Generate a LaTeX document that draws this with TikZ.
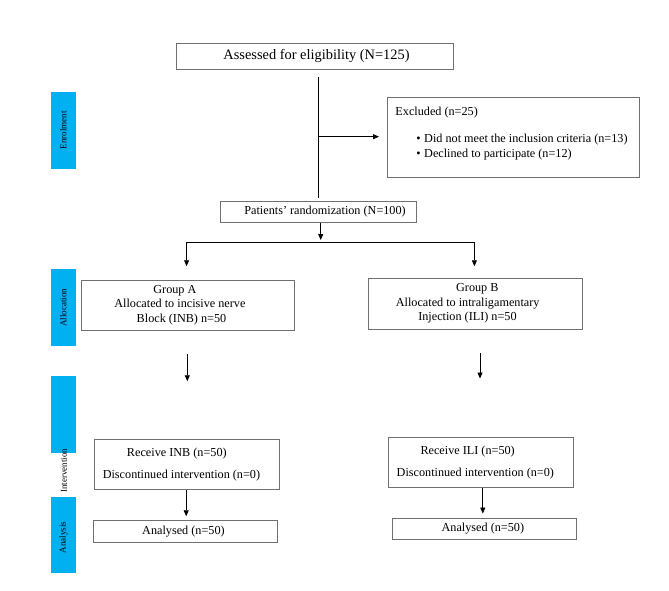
\documentclass[tikz,border=0pt]{standalone}
\usepackage{fontspec}
\setmainfont{Liberation Serif}
\usetikzlibrary{arrows.meta}
\definecolor{barblue}{RGB}{0,176,240}
\definecolor{boxgray}{RGB}{112,112,112}
\begin{document}
\begin{tikzpicture}[x=1pt,y=-1pt,
  box/.style={draw=boxgray,line width=0.9pt,inner sep=0pt,align=center,
    font=\fontsize{12.2}{14.6}\selectfont},
  bar/.style={fill=barblue,inner sep=0pt,rotate=90,minimum height=25.5pt,
    font=\fontsize{9}{10}\selectfont},
  sidelabel/.style={inner sep=0pt,rotate=90,font=\fontsize{9}{10}\selectfont},
  conn/.style={draw=black,line width=0.8pt},
  arr/.style={conn,-{Triangle[length=6pt,width=5pt]}}]
\useasboundingbox[fill=white] (0,0) rectangle (669,591);

% boxes
\node[box,minimum width=276.7pt,minimum height=26pt,
  font=\fontsize{14.4}{17}\selectfont] (assess) at (315,56.3)
  {\hspace*{3pt}Assessed for eligibility (N=125)};
\node[box,anchor=north west,minimum width=252pt,minimum height=80pt] (excl) at (387,97.3)
  {\begin{minipage}[t][80pt][t]{252pt}\raggedright
   \vspace*{8.8pt}\hspace*{8pt}Excluded (n=25)\\[12.9pt]
   \hspace*{29pt}\textbullet\hspace{3.5pt}Did not meet the inclusion criteria (n=13)\\[0.8pt]
   \hspace*{29pt}\textbullet\hspace{3.5pt}Declined to participate (n=12)
   \end{minipage}};
\node[box,minimum width=196.7pt,minimum height=20.6pt] (rand) at (318.35,212)
  {\hspace*{13.4pt}Patients’ randomization (N=100)};
\node[box,minimum width=213.2pt,minimum height=50pt] (gA) at (187.9,305)
  {\hspace*{-26pt}Group A\\\hspace*{-16pt}Allocated to incisive nerve\\\hspace*{-12.8pt}Block (INB) n=50};
\node[box,minimum width=213.9pt,minimum height=50.7pt] (gB) at (475.35,303.65)
  {\hspace*{4pt}Group B\\\hspace*{-15.4pt}Allocated to intraligamentary\\\hspace*{-15.8pt}Injection (ILI) n=50};
\node[box,minimum width=184.9pt,minimum height=50.3pt] (rA) at (186.75,464.15)
  {\hspace*{-19.8pt}Receive INB (n=50)\\[7.4pt]\hspace*{-10.6pt}Discontinued intervention (n=0)};
\node[box,minimum width=184.7pt,minimum height=50.4pt] (rB) at (480.65,462.5)
  {\hspace*{-26pt}Receive ILI (n=50)\\[7.2pt]\hspace*{-10.6pt}Discontinued intervention (n=0)};
\node[box,minimum width=183.7pt,minimum height=21.6pt] (nA) at (185.45,531.5)
  {\hspace*{-4pt}Analysed (n=50)};
\node[box,minimum width=184.7pt,minimum height=20.6pt] (nB) at (484.35,529)
  {\hspace*{-3pt}Analysed (n=50)};

% side bars
\node[bar,minimum width=77.6pt] (barE) at (63.4,130.5) {Enrolment};
\node[bar,minimum width=76.7pt] (barA) at (63.4,307.65) {Allocation};
\node[bar,minimum width=77.3pt] (barI) at (63.4,414.65) {};
\node[sidelabel] (labI) at (64,470.5) {Intervention};
\node[bar,minimum width=76.6pt] (barN) at (63.4,535) {\hspace*{-5pt}Analysis};

% connector coordinates
\coordinate (vx) at (318.3,0);
\coordinate (ex) at (318.3,136.7);
\coordinate (rx) at (320.7,0);
\coordinate (split) at (320.7,240);
\coordinate (bA) at (186.6,242.3);
\coordinate (bB) at (474.4,242.3);
\coordinate (ax) at (187.3,0);
\coordinate (bx) at (480,0);
\coordinate (cx) at (186.2,0);
\coordinate (dx) at (482.8,0);

% connectors
\draw[conn,shorten <=7.7pt,shorten >=3.5pt] (vx |- assess.south) -- (vx |- rand.north);
\draw[arr,shorten >=8pt] (ex) -- (ex -| excl.west);
\draw[arr] (rx |- rand.south) -- (split);
\draw[conn] (bA) -- (bB);
\draw[arr,shorten >=13.3pt] (bA) -- (bA |- gA.north);
\draw[arr,shorten >=11.6pt] (bB) -- (bB |- gB.north);
\draw[arr,shorten <=24pt,shorten >=57.3pt] (ax |- gA.south) -- (ax |- rA.north);
\draw[arr,shorten <=24pt,shorten >=58.3pt] (bx |- gB.south) -- (bx |- rB.north);
\draw[arr,shorten >=4pt] (cx |- rA.south) -- (cx |- nA.north);
\draw[arr,shorten >=4.7pt] (dx |- rB.south) -- (dx |- nB.north);
\end{tikzpicture}
\end{document}
